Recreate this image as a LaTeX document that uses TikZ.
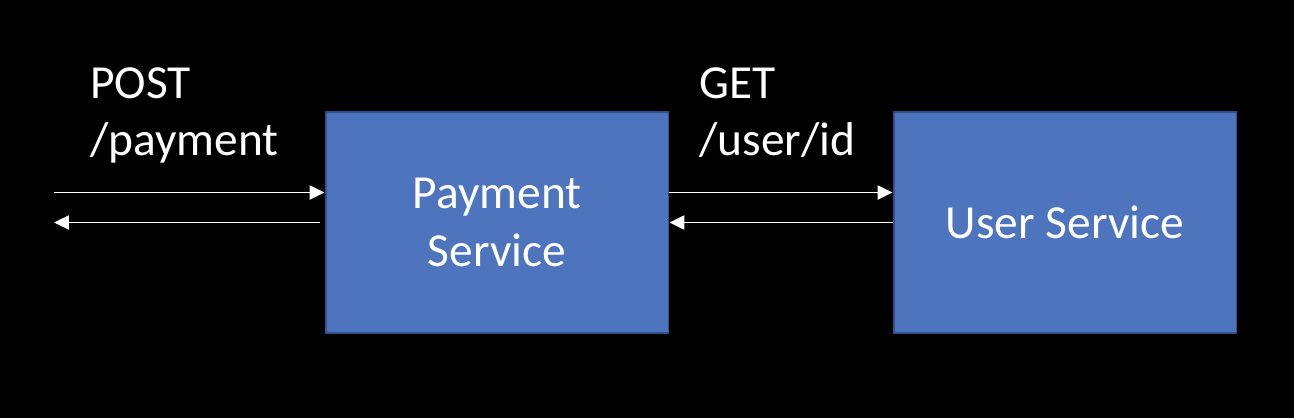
\documentclass[tikz,border=0pt]{standalone}
\usepackage{fontspec}
\setmainfont{Carlito}
\usetikzlibrary{arrows.meta,positioning,calc}
\definecolor{boxBlue}{HTML}{4E74BE}
\definecolor{boxEdge}{HTML}{2F528F}

\begin{document}
\begin{tikzpicture}
  [x=0.02cm, y=-0.02cm,
   svcNode/.style={draw=boxEdge, line width=1.1pt, fill=boxBlue, text=white,
                   minimum width=6.86cm, minimum height=4.42cm, align=center,
                   font=\fontsize{27}{33}\selectfont},
   msgLbl/.style={text=white, align=left, anchor=base west, inner sep=0pt,
                  font=\fontsize{27}{33}\selectfont},
   msgArr/.style={white, line width=1.1pt, -{Triangle[length=8.5pt,width=8pt]}},
  ]

 \fill[black] (0,0) rectangle (1294,418);

 \node[svcNode] (pay) at (497,222.5) {Payment\\Service};
 \node[svcNode] (usr) at (1065,222.5) {User Service};
 \coordinate (client) at (54,222.5);

 % base anchor sits on the last line
 \node[msgLbl] (postLbl) at (90,156) {POST\\/payment};
 \node[msgLbl] (getLbl) at (699,156) {GET\\/user/id};

 \draw[msgArr] ([yshift=0.6cm]client) -- ([yshift=0.6cm]pay.west);
 \draw[msgArr] ([xshift=-0.1cm]pay.west) -- (client);
 \draw[msgArr] ([yshift=0.6cm]pay.east) -- ([yshift=0.6cm]usr.west);
 \draw[msgArr] (usr.west) -- (pay.east);
\end{tikzpicture}
\end{document}
